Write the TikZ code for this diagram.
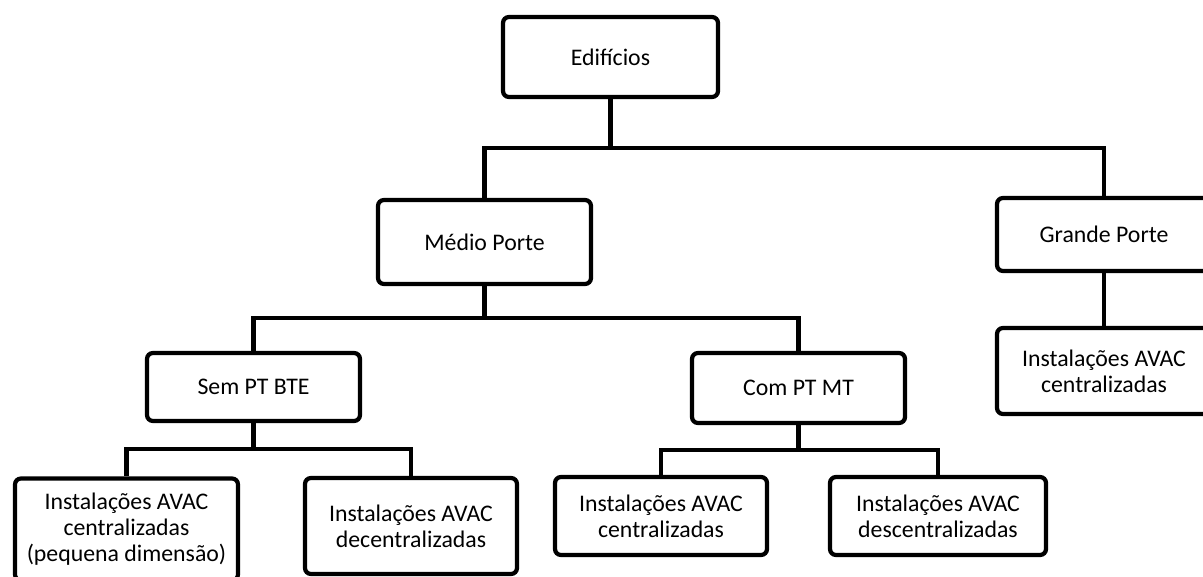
\documentclass[tikz,border=0pt]{standalone}
\usepackage{fontspec}
\setmainfont{Carlito}
\begin{document}
\begin{tikzpicture}[x=0.5pt,y=-0.5pt,
  box/.style={draw=black, line width=2.1pt, rounded corners=3pt, fill=white,
    align=center, inner sep=0pt, font=\fontsize{11.9}{13}\selectfont},
  link/.style={draw=black, line width=2.1pt}]
\useasboundingbox (0,0) rectangle (1203,577);
\clip (0,0) rectangle (1203,577);
\fill[white] (0,0) rectangle (1203,577);
% boxes
\node[box, minimum width=107.5pt, minimum height=40pt] (ed) at (610.5,57) {Edifícios};
\node[box, minimum width=106.5pt, minimum height=42pt] (med) at (484.5,242) {Médio Porte};
\node[box, minimum width=107pt, minimum height=36.5pt] (gra) at (1104,234.5) {Grande Porte};
\node[box, minimum width=107pt, minimum height=43pt] (grac) at (1104,371) {Instalações AVAC\\centralizadas};
\node[box, minimum width=106.5pt, minimum height=34pt] (sem) at (253.5,387) {Sem PT BTE};
\node[box, minimum width=106.5pt, minimum height=35pt] (com) at (798.5,388) {Com PT MT};
\node[box, minimum width=111.5pt, minimum height=51pt] (l1) at (126.5,529.5) {Instalações AVAC\\centralizadas\\(pequena dimensão)};
\node[box, minimum width=106pt, minimum height=48pt] (l2) at (411,526) {Instalações AVAC\\decentralizadas};
\node[box, minimum width=106pt, minimum height=39pt] (r1) at (661,516) {Instalações AVAC\\centralizadas};
\node[box, minimum width=108pt, minimum height=39pt] (r2) at (938,516) {Instalações AVAC\\descentralizadas};
% connectors
\draw[link] (ed.south) -- (ed.south |- 0,148) -| (med.north);
\draw[link] (ed.south |- 0,148) -| (gra.north);
\draw[link] (gra.south) -- (grac.north);
\draw[link] (med.south) -- (med.south |- 0,318) -| (sem.north);
\draw[link] (med.south |- 0,318) -| (com.north);
\draw[link] (sem.south) -- (sem.south |- 0,449) -| (l1.north);
\draw[link] (sem.south |- 0,449) -| (l2.north);
\draw[link] (com.south) -- (com.south |- 0,450) -| (r1.north);
\draw[link] (com.south |- 0,450) -| (r2.north);
\end{tikzpicture}
\end{document}
